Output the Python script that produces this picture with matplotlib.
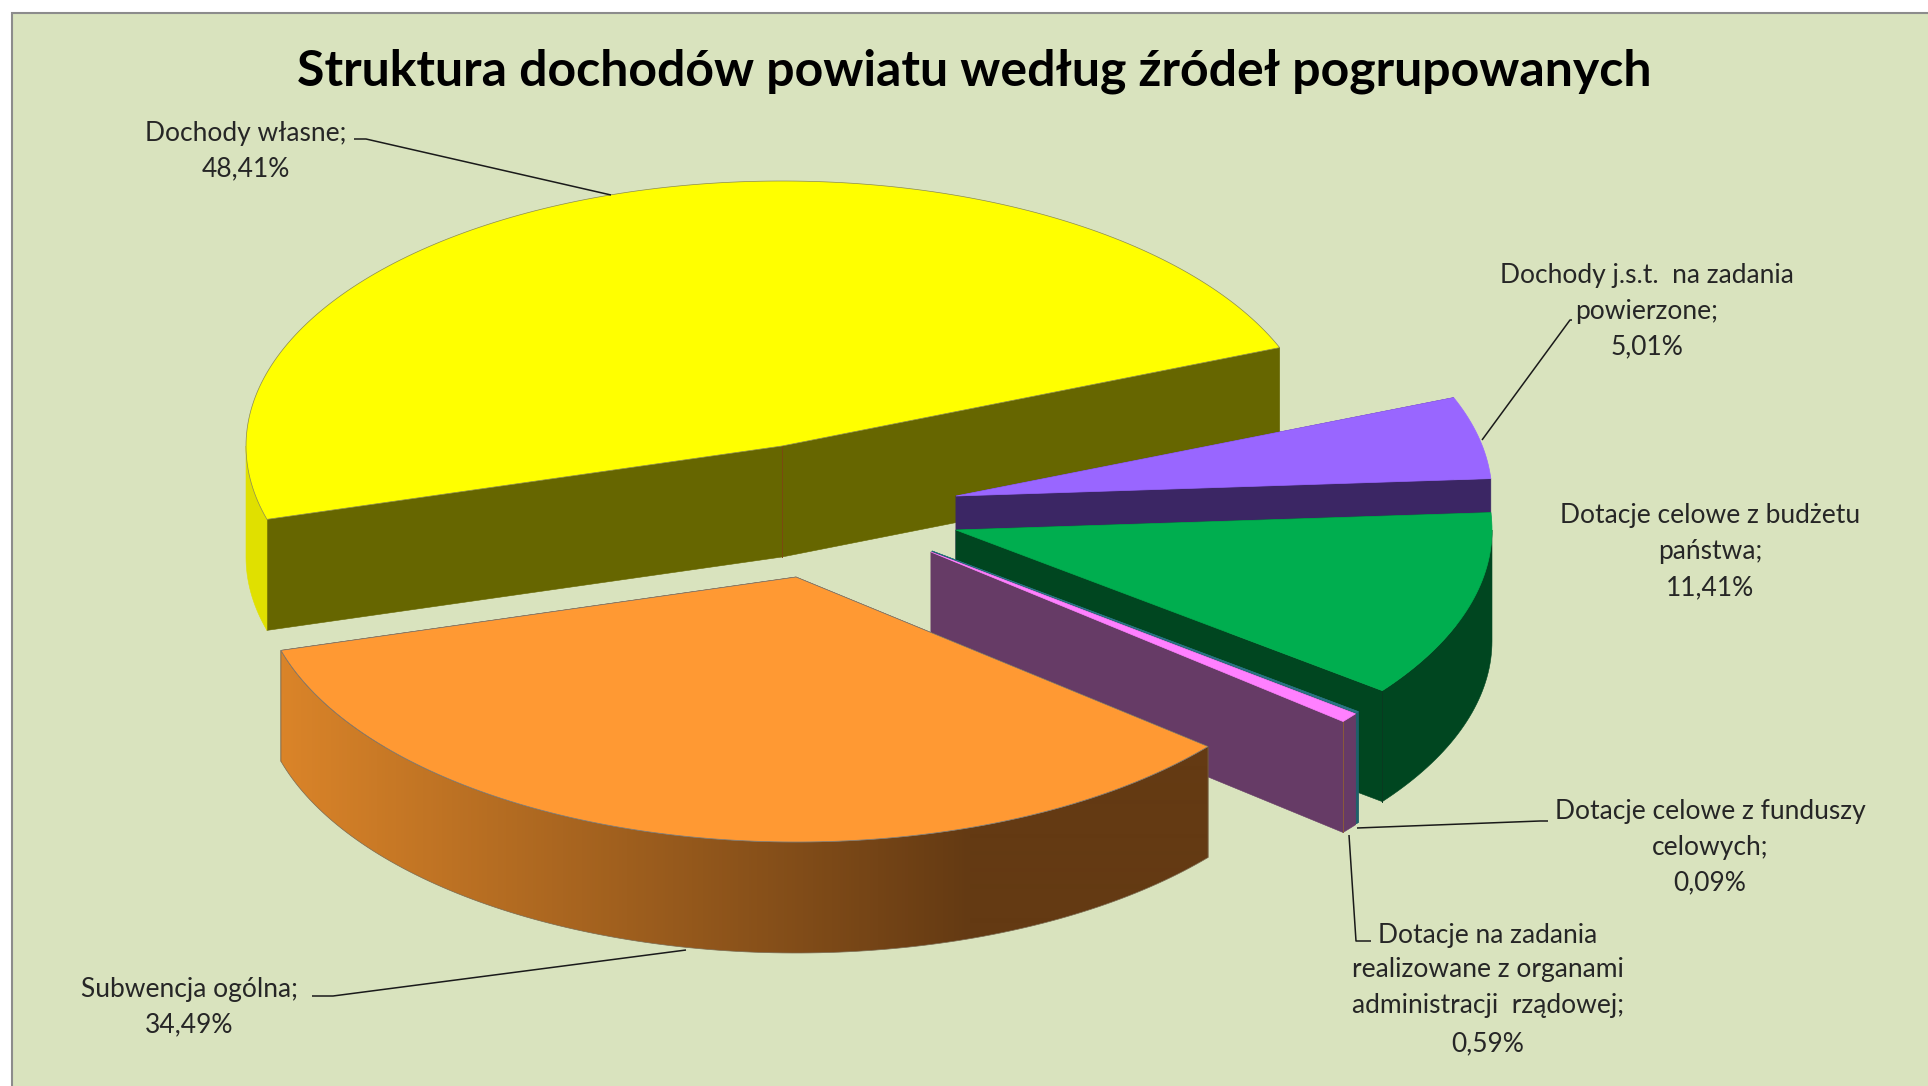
import numpy as np
import matplotlib
matplotlib.use("Agg")
import matplotlib.pyplot as plt
from matplotlib.patches import Polygon, Rectangle
from matplotlib.colors import LinearSegmentedColormap

# ---------- data ----------
title = "Struktura dochodów powiatu według źródeł pogrupowanych"
categories = ["Dochody własne", "Subwencja ogólna",
              "Dotacje na zadania realizowane z organami administracji rządowej",
              "Dotacje celowe z funduszy celowych",
              "Dotacje celowe z budżetu państwa",
              "Dochody j.s.t. na zadania powierzone"]
values = [48.41, 34.49, 0.59, 0.09, 11.41, 5.01]
label_lines = [["Dochody własne;", "48,41%"],
               ["Subwencja ogólna;", "34,49%"],
               ["Dotacje na zadania", "realizowane z organami", "administracji  rządowej;", "0,59%"],
               ["Dotacje celowe z funduszy", "celowych;", "0,09%"],
               ["Dotacje celowe z budżetu", "państwa;", "11,41%"],
               ["Dochody j.s.t.  na zadania", "powierzone;", "5,01%"]]

# ---------- style / layout (pixels) ----------
W, H = 1928, 1086
BG = "#D9E3BE"
RX, RY, DEPTH = 536, 265, 111
START = 21.8
centers = [(782, 446), (796, 577), (931, 552), (932, 551), (956, 530), (956, 496)]
top_cols = ["#FFFF00", "#FF9933", "#FF80FF", "#2A7585", "#00AE4F", "#9966FF"]
face_cols = ["#666600", "#663A13", "#663B66", "#1F5F6A", "#004620", "#3B2664"]
arc_cols = ["#E0E000", None, "#663B66", "#1F5F6A", "#004620", "#3B2664"]
draw_order = [0, 5, 4, 3, 2, 1]
label_centers = [(246, [133, 169]), (189, [989, 1025]),
                 (1488, [935, 970, 1006, 1044]), (1710, [812, 848, 883]),
                 (1710, [516, 552, 588]), (1647, [276, 312, 347])]
leaders = [[(354, 139), (366, 139), (611, 195)],
           [(312, 996), (333, 996), (686, 950)],
           [(1349, 835), (1356, 941), (1371, 941)],
           [(1357, 828), (1540, 821), (1548, 821)],
           [(1482, 440), (1570, 320), (1572, 320)]]

fig = plt.figure(figsize=(W / 100, H / 100), dpi=100, facecolor="white")
ax = fig.add_axes([0, 0, 1, 1])
ax.set_xlim(0, W)
ax.set_ylim(H, 0)
ax.axis("off")
ax.add_patch(Rectangle((11.5, 13), W + 20, H + 20, facecolor=BG, edgecolor="#8C8C8C", lw=1.5, zorder=0))

spans = np.array(values) / sum(values) * 360.0
starts = START + np.concatenate([[0], np.cumsum(spans)[:-1]])


def pt(c, deg, dz=0.0):
    t = np.radians(deg)
    return np.column_stack([c[0] + RX * np.cos(t), c[1] - RY * np.sin(t) + dz])


def arc(c, a, b, dz=0.0):
    n = max(3, int(abs(b - a)) + 2)
    return pt(c, np.linspace(a, b, n), dz)


z = 1
for i in draw_order:
    c, a, b = centers[i], starts[i], starts[i] + spans[i]
    apex = np.array([c])
    # cut faces running from the axis to the rim
    for ang in (a, b):
        p = pt(c, [ang])
        face = np.vstack([apex, p, p + [0, DEPTH], apex + [0, DEPTH]])
        ax.add_patch(Polygon(face, closed=True, facecolor=face_cols[i],
                             edgecolor=face_cols[i], lw=0.4, zorder=z))
    # outer wall (only the front half of the ellipse is visible)
    for lo, hi in ((max(a, 180), min(b, 360)), (max(a, 540), min(b, 720))):
        if hi > lo:
            wall = np.vstack([arc(c, lo, hi), arc(c, hi, lo, DEPTH)])
            if arc_cols[i] is None:
                cmap = LinearSegmentedColormap.from_list("w", ["#DA8429", "#643A13"])
                grad = np.clip((np.arange(W) - 282) / (972 - 282), 0, 1)[None, :]
                poly = Polygon(wall, closed=True, facecolor="none", edgecolor="none",
                               transform=ax.transData)
                ax.add_patch(poly)
                im = ax.imshow(grad, cmap=cmap, extent=(0, W, H, 0), aspect="auto",
                               zorder=z + 0.1, interpolation="bilinear")
                im.set_clip_path(poly)
                ax.add_patch(Polygon(wall, closed=True, facecolor="none",
                                     edgecolor="#7A6A50", lw=0.5, zorder=z + 0.2))
            else:
                ax.add_patch(Polygon(wall, closed=True, facecolor=arc_cols[i],
                                     edgecolor=arc_cols[i], lw=0.4, zorder=z + 0.1))
    # seam lines
    if i == 0:
        ax.plot([c[0], c[0]], [c[1], c[1] + DEPTH], color="#7A4A10", lw=0.7, zorder=z + 0.2)
    if i == 2:
        p = pt(c, [a])[0]
        ax.plot([p[0], p[0]], [p[1], p[1] + DEPTH], color="#8A5A3A", lw=0.7, zorder=z + 0.2)
    if i == 4:
        p = pt(c, [a])[0]
        ax.plot([p[0], p[0]], [p[1], p[1] + DEPTH], color="#0A3A20", lw=0.7, zorder=z + 0.2)
    # top surface
    top = np.vstack([apex, arc(c, a, b)])
    edge = "#8A8A50" if i == 0 else ("#7A7A7A" if i == 1 else top_cols[i])
    ax.add_patch(Polygon(top, closed=True, facecolor=top_cols[i], edgecolor=edge,
                         lw=0.5, zorder=z + 0.3))
    z += 1

ax.set_xlim(0, W)
ax.set_ylim(H, 0)

for pts in leaders:
    xs, ys = zip(*pts)
    ax.plot(xs, ys, color="#1A1A1A", lw=1.1, zorder=20, solid_capstyle="butt")

for (cx, ys), lines in zip(label_centers, label_lines):
    for y, s in zip(ys, lines):
        ax.text(cx, y, s, ha="center", va="center", fontsize=19, family="Lato",
                color="#262626", zorder=21)

ax.text(974, 71, title, ha="center", va="center", fontsize=36, family="Lato",
        fontweight="bold", color="black", zorder=21)

fig.savefig("out.png", dpi=100, facecolor="white")
